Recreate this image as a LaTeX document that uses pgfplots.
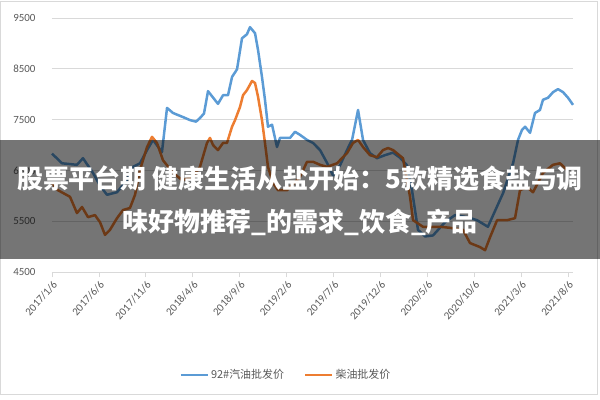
\documentclass[border=0pt]{standalone}
\usepackage{pgfplots}
\pgfplotsset{compat=1.18}
\usepackage{fontspec}
\setmainfont{Carlito}
\newfontfamily\cjk{Noto Sans CJK SC}
\definecolor{gasblue}{HTML}{5B9BD5}
\definecolor{dieselorange}{HTML}{ED7D31}
\definecolor{ticktext}{HTML}{595959}
\definecolor{gridgray}{HTML}{D9D9D9}
\begin{document}
\begin{tikzpicture}
\begin{axis}[
  scale only axis, width=521bp, height=254bp,
  xmin=0, xmax=55.53, ymin=4500, ymax=9500,
  axis x line*=bottom, axis y line*=left,
  x axis line style={-, draw=gridgray, line width=0.8bp},
  y axis line style={draw=none},
  ytick={4500,5500,6500,7500,8500,9500},
  xtick={0,5,10,15,20,25,30,35,40,45,50,55},
  xticklabels={2017/1/6,2017/6/6,2017/11/6,2018/4/6,2018/9/6,2019/2/6,2019/7/6,2019/12/6,2020/5/6,2020/10/6,2021/3/6,2021/8/6},
  ymajorgrids, grid style={draw=gridgray, line width=0.8bp},
  tick align=outside, major tick length=5bp,
  xtick style={draw=gridgray, line width=0.8bp},
  ytick style={draw=none},
  /pgf/number format/.cd, 1000 sep={}, assume math mode=true, /pgfplots/.cd,
  yticklabel style={font=\fontsize{11}{13}\selectfont, text=ticktext, xshift=-8bp},
  xticklabel style={font=\fontsize{11}{13}\selectfont, text=ticktext, rotate=48, anchor=north east, inner sep=2bp},
  legend columns=2,
  legend style={at={(0.449,-0.4055)}, anchor=center, draw=none, fill=none,
    font=\cjk\fontsize{11}{13}\selectfont, text=ticktext,
    /tikz/every even column/.append style={column sep=18bp}},
  legend image code/.code={\draw[#1, line width=2.5bp] (0bp,0bp) -- (27bp,0bp);},
  clip=false,
]
\addplot[gasblue, line width=2.5bp, line join=round] coordinates {
(0.00,6830) (1.07,6640) (2.66,6610) (3.30,6740) (4.37,6450) (5.12,6200) (5.86,6020) (6.93,6070) (7.99,6310) (8.63,6570) (9.38,6640) (10.13,6900) (10.77,7100) (11.72,6860) (12.26,7730) (12.90,7630) (13.96,7550) (14.71,7490) (15.35,7460) (15.77,7530) (16.20,7620) (16.63,8060) (17.69,7810) (18.23,7980) (18.76,7980) (19.19,8340) (19.72,8490) (20.25,9100) (20.78,9180) (21.10,9320) (21.64,9200) (21.96,8870) (22.38,8340) (22.70,7890) (23.02,7360) (23.45,7400) (23.98,6960) (24.30,7140) (25.37,7140) (25.90,7260) (26.43,7200) (27.18,7100) (27.82,7040) (28.57,6900) (29.31,6650) (29.95,6400) (30.70,6600) (31.44,6900) (31.98,7100) (32.62,7690) (33.15,7100) (33.89,6840) (34.64,6740) (35.49,6800) (36.35,6850) (37.09,6750) (37.84,6600) (38.37,6110) (39.01,5330) (39.76,5200) (40.61,5220) (41.89,5480) (42.95,5620) (44.23,5580) (45.30,5520) (46.46,5390) (47.75,5920) (48.07,6050) (49.14,6640) (49.67,7100) (50.10,7300) (50.42,7360) (50.95,7240) (51.48,7630) (52.01,7690) (52.33,7890) (52.87,7930) (53.40,8040) (53.93,8100) (54.47,8040) (55.00,7930) (55.53,7790)
};
\addlegendentry{92\#汽油批发价}
\addplot[dieselorange, line width=2.5bp, line join=round] coordinates {
(0.00,6250) (0.64,6110) (1.92,5980) (2.66,5660) (3.20,5780) (3.84,5580) (4.58,5620) (5.12,5480) (5.65,5230) (6.18,5330) (6.93,5560) (7.57,5720) (8.31,5760) (8.85,6020) (9.38,6510) (10.13,6960) (10.66,7160) (11.19,7040) (11.83,6700) (12.90,6450) (13.86,6310) (15.03,6370) (15.77,6570) (16.52,7040) (16.84,7140) (17.16,7000) (17.69,6900) (18.23,7040) (18.65,7040) (19.19,7360) (19.51,7490) (20.04,7750) (20.36,7980) (20.78,8080) (21.32,8260) (21.64,8220) (21.96,7950) (22.38,7490) (22.70,7040) (23.02,6570) (23.56,6250) (24.09,6110) (25.05,6110) (26.43,6370) (27.18,6670) (27.82,6670) (28.57,6610) (29.31,6570) (30.38,6640) (31.44,6840) (32.08,7040) (32.62,7100) (33.15,6960) (33.89,6800) (34.64,6760) (35.28,6900) (35.82,6940) (36.35,6900) (37.41,6740) (38.16,5980) (38.48,5520) (39.54,5390) (41.36,5390) (42.42,5370) (43.81,5330) (44.55,5070) (45.62,4990) (46.16,4930) (46.70,5190) (47.44,5520) (48.50,5520) (49.35,5560) (49.88,6110) (50.63,6170) (51.27,6070) (52.33,6450) (53.40,6610) (54.14,6640) (54.89,6510)
};
\addlegendentry{柴油批发价}
\path (rel axis cs:-0.09981,-0.50394) rectangle (rel axis cs:1.05182,1.07087);
\draw[gridgray, line width=0.8bp] (rel axis cs:-0.0988,-0.4803) rectangle (rel axis cs:1.046,1.0650);
\fill[black, opacity=0.54] (rel axis cs:-0.09981,0.0512) rectangle (rel axis cs:1.05182,0.5197);
\node[text=white, font=\cjk\bfseries\fontsize{26}{39}\selectfont, align=center, inner sep=0pt] at (rel axis cs:0.4760,0.2795) {股票平台期 健康生活从盐开始：5款精选食盐与调\\[4bp]味好物推荐\_的需求\_饮食\_产品};
\end{axis}
\end{tikzpicture}
\end{document}
